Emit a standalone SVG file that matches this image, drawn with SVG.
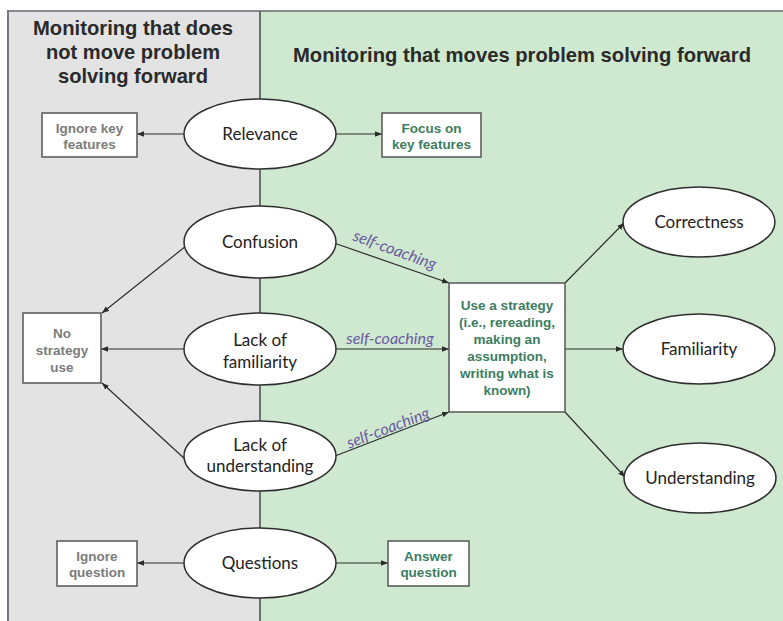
<svg xmlns="http://www.w3.org/2000/svg" width="783" height="621" viewBox="0 0 783 621">
<defs>
<marker id="ah" viewBox="0 0 10 10" refX="10" refY="5" markerWidth="7" markerHeight="7" orient="auto" markerUnits="userSpaceOnUse">
<path d="M0,1 L10,5 L0,9 z" fill="#2b2b2b"/>
</marker>
<style>
.hdr{font-family:"Liberation Sans",Arial,sans-serif;font-weight:bold;font-size:21px;fill:#2a2a2a;text-anchor:middle}
.ell{fill:#fff;stroke:#2e2e2e;stroke-width:1.5}
.et{font-family:Lato,"DejaVu Sans",sans-serif;font-size:17px;fill:#222;text-anchor:middle}
.box{fill:#fff;stroke:#555;stroke-width:1.5}
.bt{font-family:"Liberation Sans",Arial,sans-serif;font-weight:bold;font-size:13.5px;text-anchor:middle}
.g{fill:#7b7b7b}
.gr{fill:#3c7d5e}
.sc{font-family:Lato,"DejaVu Sans",sans-serif;font-style:italic;font-size:16px;fill:#6a5aa0;text-anchor:middle}
.c{stroke:#2b2b2b;stroke-width:1.2;fill:none;marker-end:url(#ah)}
</style>
</defs>
<rect x="0" y="0" width="783" height="621" fill="#fff"/>
<rect x="8" y="11" width="252" height="610" fill="#e3e3e3"/>
<rect x="260" y="11" width="523" height="610" fill="#cfe8d0"/>
<line x1="8" y1="11" x2="783" y2="11" stroke="#8a8a95" stroke-width="2"/>
<line x1="8" y1="10" x2="8" y2="621" stroke="#767686" stroke-width="2"/>
<line x1="260" y1="11" x2="260" y2="621" stroke="#4a4a4a" stroke-width="1.5"/>

<g id="header-left">
<text class="hdr" x="133" y="35" textLength="200" lengthAdjust="spacingAndGlyphs">Monitoring that does</text>
<text class="hdr" x="133" y="59" textLength="174" lengthAdjust="spacingAndGlyphs">not move problem</text>
<text class="hdr" x="133" y="83" textLength="150" lengthAdjust="spacingAndGlyphs">solving forward</text>
</g>
<g id="header-right">
<text class="hdr" x="522" y="62" textLength="458" lengthAdjust="spacingAndGlyphs">Monitoring that moves problem solving forward</text>
</g>

<g id="connectors">
<line class="c" x1="184" y1="134" x2="137" y2="134"/>
<line class="c" x1="336" y1="134" x2="382" y2="134"/>
<line class="c" x1="186" y1="246" x2="102" y2="313"/>
<line class="c" x1="184" y1="349" x2="101" y2="349"/>
<line class="c" x1="186" y1="460" x2="102" y2="383"/>
<line class="c" x1="334" y1="243" x2="449" y2="283"/>
<line class="c" x1="336" y1="349" x2="449" y2="349"/>
<line class="c" x1="335" y1="456" x2="449" y2="412"/>
<line class="c" x1="565" y1="283" x2="624" y2="223"/>
<line class="c" x1="565" y1="349" x2="623" y2="349"/>
<line class="c" x1="565" y1="412" x2="625" y2="477"/>
<line class="c" x1="184" y1="563" x2="137" y2="563"/>
<line class="c" x1="336" y1="563" x2="388" y2="563"/>
<text class="sc" x="393" y="255" transform="rotate(20 393 255)">self-coaching</text>
<text class="sc" x="390" y="344">self-coaching</text>
<text class="sc" x="390" y="433" transform="rotate(-21 390 433)">self-coaching</text>
</g>

<g id="relevance"><ellipse class="ell" cx="260" cy="134" rx="76" ry="35"/><text class="et" x="260" y="140">Relevance</text></g>
<g id="confusion"><ellipse class="ell" cx="260" cy="242" rx="76" ry="36"/><text class="et" x="260" y="248">Confusion</text></g>
<g id="lack-familiarity"><ellipse class="ell" cx="260" cy="349" rx="76" ry="36"/><text class="et" x="260" y="346">Lack of</text><text class="et" x="260" y="368">familiarity</text></g>
<g id="lack-understanding"><ellipse class="ell" cx="260" cy="456" rx="76" ry="35"/><text class="et" x="260" y="451">Lack of</text><text class="et" x="260" y="472">understanding</text></g>
<g id="questions"><ellipse class="ell" cx="260" cy="563" rx="76" ry="35"/><text class="et" x="260" y="569">Questions</text></g>
<g id="correctness"><ellipse class="ell" cx="699" cy="222" rx="76" ry="35"/><text class="et" x="699" y="228">Correctness</text></g>
<g id="familiarity"><ellipse class="ell" cx="699" cy="349" rx="76" ry="35"/><text class="et" x="699" y="355">Familiarity</text></g>
<g id="understanding"><ellipse class="ell" cx="700" cy="478" rx="76" ry="35"/><text class="et" x="700" y="484">Understanding</text></g>

<g id="ignore-key"><rect class="box" x="42" y="113" width="95" height="44"/><text class="bt g" x="89.5" y="133">Ignore key</text><text class="bt g" x="89.5" y="149">features</text></g>
<g id="focus-key"><rect class="box" x="382" y="113" width="99" height="44"/><text class="bt gr" x="431.5" y="133">Focus on</text><text class="bt gr" x="431.5" y="149">key features</text></g>
<g id="no-strategy"><rect class="box" x="23" y="313" width="78" height="70"/><text class="bt g" x="62" y="338">No</text><text class="bt g" x="62" y="355">strategy</text><text class="bt g" x="62" y="372">use</text></g>
<g id="use-strategy"><rect class="box" x="449" y="283" width="116" height="129"/>
<text class="bt gr" x="507" y="310">Use a strategy</text>
<text class="bt gr" x="507" y="327">(i.e., rereading,</text>
<text class="bt gr" x="507" y="344">making an</text>
<text class="bt gr" x="507" y="361">assumption,</text>
<text class="bt gr" x="507" y="378">writing what is</text>
<text class="bt gr" x="507" y="395">known)</text></g>
<g id="ignore-question"><rect class="box" x="57" y="541" width="80" height="45"/><text class="bt g" x="97" y="561">Ignore</text><text class="bt g" x="97" y="577">question</text></g>
<g id="answer-question"><rect class="box" x="388" y="541" width="81" height="45"/><text class="bt gr" x="428.5" y="561">Answer</text><text class="bt gr" x="428.5" y="577">question</text></g>
</svg>
